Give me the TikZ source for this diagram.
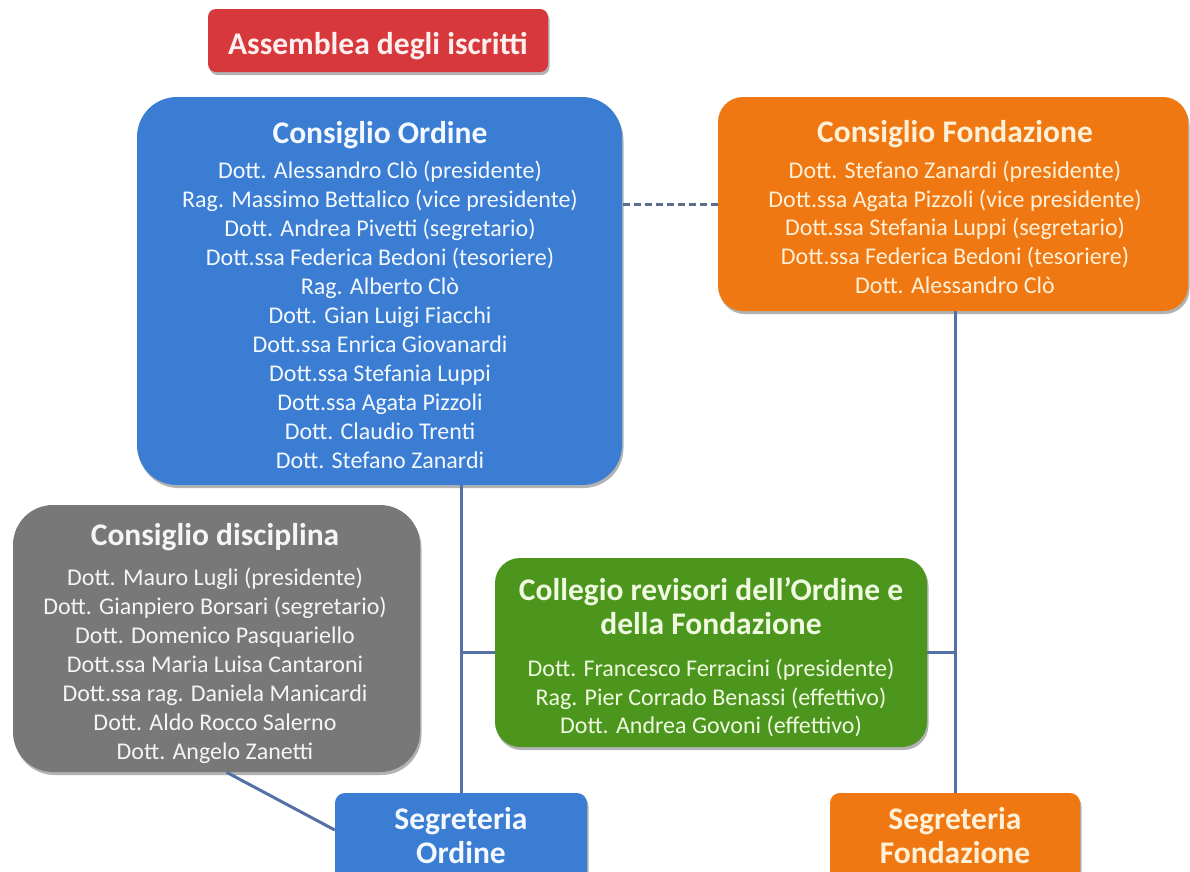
\documentclass[tikz,border=0pt]{standalone}
\usepackage{fontspec}
\setmainfont{Carlito}
\usetikzlibrary{shadows,calc}
\definecolor{redc}{RGB}{214,56,60}
\definecolor{bluec}{RGB}{58,125,210}
\definecolor{orangec}{RGB}{239,120,18}
\definecolor{grayc}{RGB}{120,120,120}
\definecolor{greenc}{RGB}{76,150,30}
\definecolor{redt}{RGB}{255,240,240}
\definecolor{bluet}{RGB}{244,248,255}
\definecolor{oranget}{RGB}{255,240,216}
\definecolor{grayt}{RGB}{245,245,245}
\definecolor{greent}{RGB}{240,250,224}
\definecolor{connc}{RGB}{84,112,165}
\definecolor{dashc}{RGB}{92,111,138}
\tikzset{
  box/.style={rounded corners=#1, inner sep=0pt,
    drop shadow={shadow xshift=1.5pt, shadow yshift=-3pt, opacity=0.3, fill=black}},
  ttl/.style={font=\fontsize{31.5}{34}\selectfont\bfseries, align=center, inner sep=0pt, anchor=north},
  bdy/.style={font=\fontsize{24}{29}\selectfont, align=center, inner sep=0pt, anchor=north},
  conn/.style={draw=connc, line width=3pt},
  dconn/.style={draw=dashc, line width=3pt, dash pattern=on 7pt off 4pt},
}
\begin{document}
\begin{tikzpicture}[x=1pt,y=-1pt]
\useasboundingbox (0,0) rectangle (1190,871);
\fill[white] (0,0) rectangle (1190,871);

% Assemblea
\node[box=8pt, fill=redc, minimum width=340pt, minimum height=63pt] (ass) at (378,40.5) {};
\node[ttl, text=redt] (asst) at (378,32) {Assemblea degli iscritti};

% Consiglio Ordine
\node[box=40pt, fill=bluec, minimum width=485pt, minimum height=388pt] (consO) at (379.5,291) {};
\node[ttl, text=bluet] (consOt) at (380,121) {Consiglio Ordine};
\node[bdy, text=bluet] (consOb) at (380,161) {Dott. Alessandro Clò (presidente)\\
Rag. Massimo Bettalico (vice presidente)\\
Dott. Andrea Pivetti (segretario)\\
Dott.ssa Federica Bedoni (tesoriere)\\
Rag. Alberto Clò\\
Dott. Gian Luigi Fiacchi\\
Dott.ssa Enrica Giovanardi\\
Dott.ssa Stefania Luppi\\
Dott.ssa Agata Pizzoli\\
Dott. Claudio Trenti\\
Dott. Stefano Zanardi};

% Consiglio Fondazione
\node[box=25pt, fill=orangec, minimum width=470pt, minimum height=214pt] (consF) at (953,204) {};
\node[ttl, text=oranget] (consFt) at (955,120) {Consiglio Fondazione};
\node[bdy, text=oranget, font=\fontsize{24}{28.6}\selectfont] (consFb) at (955,161) {Dott. Stefano Zanardi (presidente)\\
Dott.ssa Agata Pizzoli (vice presidente)\\
Dott.ssa Stefania Luppi (segretario)\\
Dott.ssa Federica Bedoni (tesoriere)\\
Dott. Alessandro Clò};

% Consiglio disciplina
\node[box=40pt, fill=grayc, minimum width=407pt, minimum height=267pt] (gray) at (216.5,638.5) {};
\node[ttl, text=grayt] (grayt) at (215,523) {Consiglio disciplina};
\node[bdy, text=grayt] (grayb) at (215,568) {Dott. Mauro Lugli (presidente)\\
Dott. Gianpiero Borsari (segretario)\\
Dott. Domenico Pasquariello\\
Dott.ssa Maria Luisa Cantaroni\\
Dott.ssa rag. Daniela Manicardi\\
Dott. Aldo Rocco Salerno\\
Dott. Angelo Zanetti};

% Collegio revisori
\node[box=25pt, fill=greenc, minimum width=432pt, minimum height=189pt] (green) at (711,652.5) {};
\node[ttl, text=greent, font=\fontsize{31.5}{34}\selectfont\bfseries] (greent) at (711,577) {Collegio revisori dell’Ordine e\\della Fondazione};
\node[bdy, text=greent, font=\fontsize{24}{28.5}\selectfont] (greenb) at (711,659) {Dott. Francesco Ferracini (presidente)\\
Rag. Pier Corrado Benassi (effettivo)\\
Dott. Andrea Govoni (effettivo)};

% Segreterie
\node[box=10pt, fill=bluec, minimum width=252pt, minimum height=98pt] (segO) at (461,842) {};
\node[ttl, text=bluet] (segOt) at (461,807) {Segreteria\\Ordine};
\node[box=10pt, fill=orangec, minimum width=250pt, minimum height=98pt] (segF) at (955,842) {};
\node[ttl, text=oranget] (segFt) at (955,807) {Segreteria\\Fondazione};

% Connectors
\coordinate (dy) at (0,830);
\coordinate (gd) at ($(gray.south)+(10,0)$);
\draw[dconn] (consF.west) -- (consF.west -| consO.east);
\draw[conn] (segO.north) -- (segO.north |- consO.south);
\draw[conn] (segF.north) -- (segF.north |- consF.south);
\draw[conn] (green.west) -- (green.west -| segO.north);
\draw[conn] (green.east) -- (green.east -| segF.north);
\draw[conn] (gd) -- (segO.west |- dy);
\end{tikzpicture}
\end{document}
